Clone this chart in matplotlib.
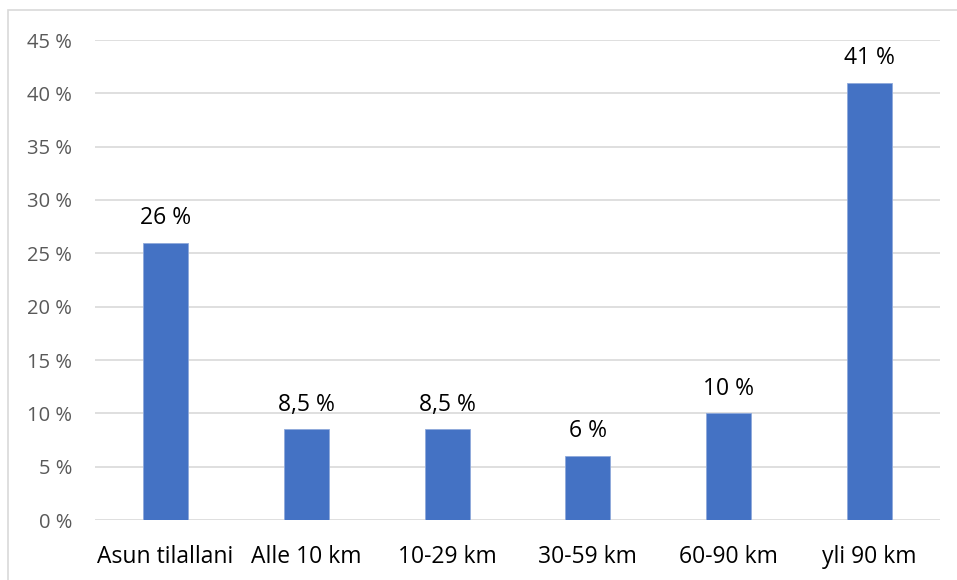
import matplotlib
matplotlib.use("Agg")
import matplotlib.pyplot as plt
from matplotlib.patches import Rectangle

categories = ["Asun tilallani", "Alle 10 km", "10-29 km", "30-59 km", "60-90 km", "yli 90 km"]
values = [26, 8.5, 8.5, 6, 10, 41]
value_labels = ["26 %", "8,5 %", "8,5 %", "6 %", "10 %", "41 %"]
y_ticks = [0, 5, 10, 15, 20, 25, 30, 35, 40, 45]

plt.rcParams["font.family"] = ["Open Sans", "DejaVu Sans"]

W, H = 957, 580
fig = plt.figure(figsize=(W / 100, H / 100), dpi=100)
ax = fig.add_axes([95 / W, 1 - 520 / H, (940 - 95) / W, (520 - 40) / H])

x = range(len(categories))
ax.bar(x, values, width=0.32, color="#4472C4", edgecolor="#8EA9DB", linewidth=0.6, zorder=3)
for xi, v, lab in zip(x, values, value_labels):
    ax.annotate(lab, (xi, v), xytext=(0, 13.5), textcoords="offset points",
                ha="center", va="baseline", fontsize=16.5, color="#000000")

ax.set_xlim(-0.5, len(categories) - 0.5)
ax.set_ylim(0, 45)
ax.set_yticks(y_ticks)
ax.set_yticklabels([f"{t} %" for t in y_ticks], fontsize=14.5, color="#595959")
ax.set_xticks(list(x))
ax.set_xticklabels(categories, fontsize=16.5, color="#000000")
ax.tick_params(axis="both", length=0)
ax.tick_params(axis="y", pad=16.5)
ax.tick_params(axis="x", pad=18)
ax.grid(axis="y", color="#D9D9D9", linewidth=1.2, zorder=0)
for s in ax.spines.values():
    s.set_visible(False)

fig.patches.append(Rectangle((8 / W, -0.01), 1.0, 1 - 10 / H + 0.01, transform=fig.transFigure,
                             fill=False, edgecolor="#D9D9D9", linewidth=1.2))

fig.savefig("out.png", dpi=100)
